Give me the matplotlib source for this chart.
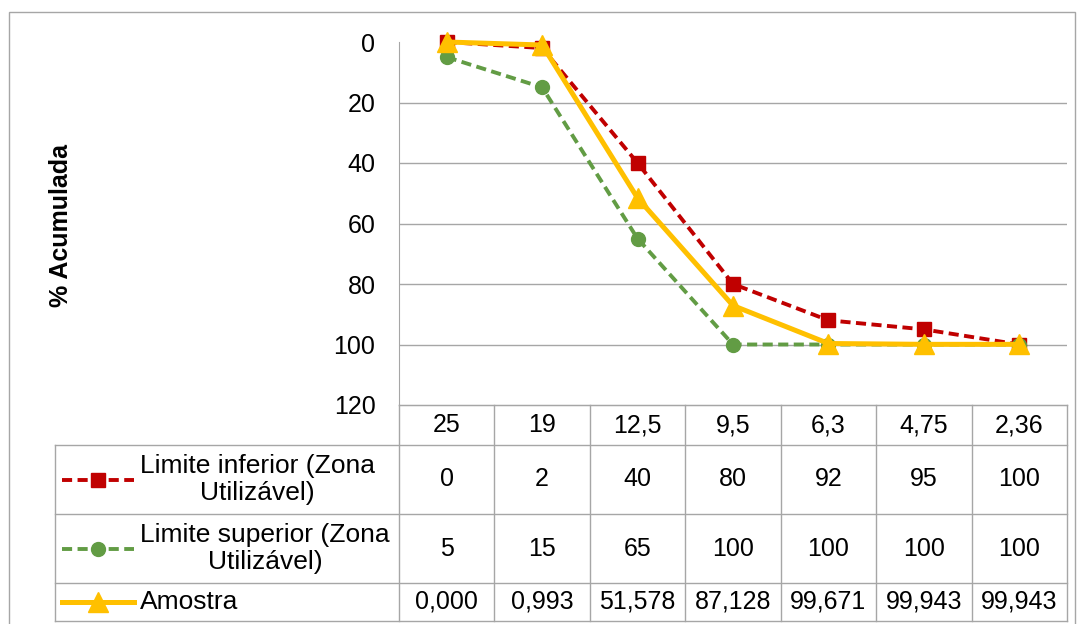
import numpy as np
import matplotlib.pyplot as plt
from matplotlib.patches import Rectangle

plt.rcParams['font.family'] = ['Liberation Sans', 'DejaVu Sans']

# Peneiras (mm) e porcentagens retidas acumuladas
peneiras = ['25', '19', '12,5', '9,5', '6,3', '4,75', '2,36']
limite_inferior = [0, 2, 40, 80, 92, 95, 100]
limite_superior = [5, 15, 65, 100, 100, 100, 100]
amostra = [0.000, 0.993, 51.578, 87.128, 99.671, 99.943, 99.943]

nomes = ['Limite inferior (Zona\nUtilizável)',
         'Limite superior (Zona\nUtilizável)',
         'Amostra']
yticks = [0, 20, 40, 60, 80, 100, 120]

W, H = 1084, 624
FS = 18
CINZA = '#A6A6A6'

fig = plt.figure(figsize=(W / 100, H / 100), dpi=100)


def caixa(x0, y0, x1, y1):
    # pixels (origem no canto superior esquerdo) -> fracao da figura
    return [x0 / W, 1 - y1 / H, (x1 - x0) / W, (y1 - y0) / H]


# moldura externa do grafico
fig.patches.append(Rectangle((9 / W, -0.01), (1075 - 9) / W, 1 - 12 / H + 0.01,
                             transform=fig.transFigure, fill=False,
                             ec=CINZA, lw=1))

# area do grafico
ax = fig.add_axes(caixa(399, 42, 1067, 405))
x = np.arange(len(peneiras))

estilos = [
    dict(color='#C00000', ls=(0, (2.6, 1.4)), lw=2.8, marker='s', ms=10.5),
    dict(color='#629C44', ls=(0, (2.6, 1.4)), lw=2.8, marker='o', ms=10),
    dict(color='#FFC000', ls='-', lw=3.6, marker='^', ms=14),
]
series = [limite_inferior, limite_superior, amostra]

for s, est in zip(series, estilos):
    ax.plot(x, s, clip_on=False, zorder=3, **est)

ax.set_xlim(-0.5, len(peneiras) - 0.5)
ax.set_ylim(120, 0)
ax.set_yticks(yticks)
ax.set_yticklabels([str(t) for t in yticks])
ax.set_xticks([])
ax.tick_params(axis='y', length=0, pad=17, labelsize=FS)
ax.grid(axis='y', color=CINZA, lw=1)
for g in (ax.get_ygridlines()[0], ax.get_ygridlines()[-1]):
    g.set_visible(False)
for lado in ('top', 'right'):
    ax.spines[lado].set_visible(False)
ax.spines['left'].set_color(CINZA)
ax.spines['bottom'].set_color(CINZA)

fig.text(61 / W, 1 - 225 / H, '% Acumulada', rotation=90, fontsize=FS,
         fontweight='bold', ha='center', va='center')

# tabela de dados abaixo do grafico
px = 668 / len(peneiras)   # largura de uma coluna em pixels
larg_leg = (399 - 55) / px
tab = fig.add_axes(caixa(55, 405, 1067, 621))
tab.set_xlim(-0.5 - larg_leg, len(peneiras) - 0.5)
tab.set_ylim(216, 0)
tab.axis('off')


def u(p):
    return (p - 399) / px - 0.5


linhas = [0, 40, 109, 178, 216]
kw = dict(color=CINZA, lw=1, clip_on=False)
tab.plot([-0.5, len(peneiras) - 0.5], [0, 0], **kw)
for y in linhas[1:]:
    tab.plot([-0.5 - larg_leg, len(peneiras) - 0.5], [y, y], **kw)
tab.plot([-0.5 - larg_leg] * 2, [linhas[1], linhas[-1]], **kw)
for i in range(len(peneiras) + 1):
    tab.plot([i - 0.5, i - 0.5], [0, linhas[-1]], **kw)

for i, p in enumerate(peneiras):
    tab.text(i, (linhas[0] + linhas[1]) / 2, p, ha='center', va='center',
             fontsize=FS)

rotulos = [[str(v) for v in limite_inferior],
           [str(v) for v in limite_superior],
           [f'{v:.3f}'.replace('.', ',') for v in amostra]]

for r, (nome, est, vals) in enumerate(zip(nomes, estilos, rotulos)):
    yc = (linhas[r + 1] + linhas[r + 2]) / 2
    tab.plot([u(62), u(98), u(134)], [yc, yc, yc], markevery=[1],
             clip_on=False, **est)
    tab.text(u(140), yc, nome, ha='left', va='center', fontsize=19,
             multialignment='center', linespacing=1.2)
    for i, v in enumerate(vals):
        tab.text(i, yc, v, ha='center', va='center', fontsize=FS)

fig.savefig('out.png', dpi=100)
